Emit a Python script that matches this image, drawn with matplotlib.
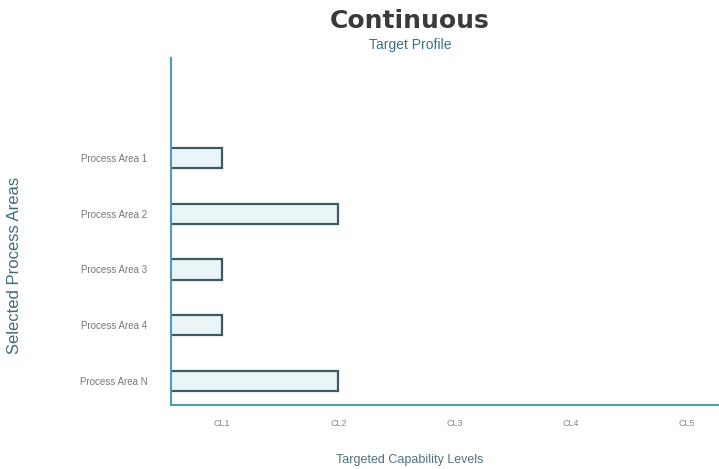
import matplotlib.pyplot as plt

areas = ["Process Area 1", "Process Area 2", "Process Area 3", "Process Area 4", "Process Area N"]
levels = [1, 2, 1, 1, 2]
level_ticks = [1, 2, 3, 4, 5]
level_labels = ["CL1", "CL2", "CL3", "CL4", "CL5"]

plt.rcParams["font.family"] = ["Liberation Sans", "DejaVu Sans"]

fig = plt.figure(figsize=(7.19, 4.69), dpi=100)
ax = fig.add_axes([0.238, 0.1365, 0.762, 0.7395])

teal = "#4c9db3"
ax.barh(range(len(areas)), levels, height=0.36, color="#eaf5f7",
        edgecolor="#3f5b62", linewidth=1.6)

ax.set_xlim(0.56, 5.28)
ax.set_ylim(4.43, -1.79)
ax.set_yticks(range(len(areas)))
ax.set_yticklabels(areas, fontsize=7, color="#777777")
ax.set_xticks(level_ticks)
ax.set_xticklabels(level_labels, fontsize=6.5, color="#888888")
ax.tick_params(length=0, pad=17, axis="y")
ax.tick_params(length=0, pad=10, axis="x")

for side in ["top", "right"]:
    ax.spines[side].set_visible(False)
for side in ["left", "bottom"]:
    ax.spines[side].set_color(teal)
    ax.spines[side].set_linewidth(1.5)

fig.text(0.57, 0.02, "Targeted Capability Levels", fontsize=9, color="#4f7480",
         ha="center", va="center")
fig.text(0.02, 0.435, "Selected Process Areas", rotation=90, fontsize=12,
         color="#3f6a7d", ha="center", va="center")

fig.text(0.57, 0.955, "Continuous", fontsize=18, fontweight="bold",
         color="#3a3a3a", ha="center", va="center", family="DejaVu Sans")
fig.text(0.57, 0.905, "Target Profile", fontsize=10, color="#3f6f80",
         ha="center", va="center")

fig.savefig("out.png", dpi=100)
